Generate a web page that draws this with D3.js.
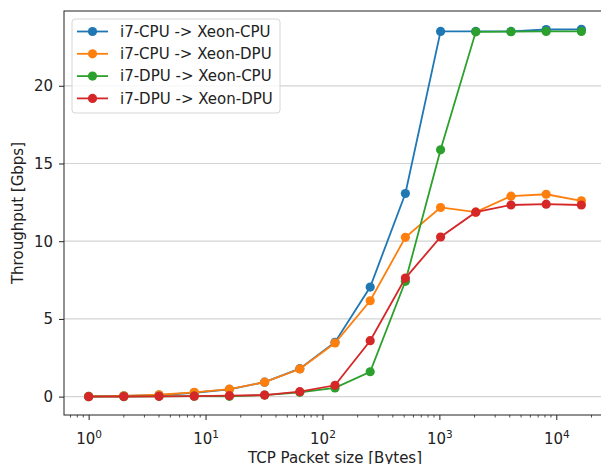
<!DOCTYPE html>
<html>
<head>
<meta charset="utf-8">
<script src="https://cdn.jsdelivr.net/npm/d3@7"></script>
<style>
  body { margin: 0; background: #fff; }
  svg { font-family: "DejaVu Sans", sans-serif; }
</style>
</head>
<body>
<div id="chart"></div>
<script>
// packet sizes in bytes
const sizes = [1, 2, 4, 8, 16, 32, 64, 128, 256, 512, 1024, 2048, 4096, 8192, 16384];

const seriesNames = [
  'i7-CPU -> Xeon-CPU',
  'i7-CPU -> Xeon-DPU',
  'i7-DPU -> Xeon-CPU',
  'i7-DPU -> Xeon-DPU'
];
const seriesColors = ['#1f77b4', '#ff7f0e', '#2ca02c', '#d62728'];

const cpuToCpu = [0.02, 0.05, 0.1, 0.25, 0.47, 0.93, 1.8, 3.5, 7.05, 13.07, 23.5, 23.5, 23.5, 23.62, 23.63];
const cpuToDpu = [0.02, 0.05, 0.12, 0.28, 0.48, 0.93, 1.78, 3.45, 6.17, 10.25, 12.17, 11.87, 12.9, 13.02, 12.6];
const dpuToCpu = [0.0, 0.0, 0.02, 0.03, 0.02, 0.1, 0.28, 0.56, 1.6, 7.42, 15.88, 23.47, 23.48, 23.5, 23.5];
const dpuToDpu = [0.0, 0.01, 0.02, 0.03, 0.06, 0.1, 0.32, 0.73, 3.6, 7.63, 10.27, 11.87, 12.33, 12.38, 12.33];

const seriesValues = [cpuToCpu, cpuToDpu, dpuToCpu, dpuToDpu];

const yTicks = [0, 5, 10, 15, 20];
const xTicks = [1, 10, 100, 1000, 10000];

document.addEventListener('DOMContentLoaded', function () {
  const width = 601, height = 464;
  const left = 64, top = 11, right = 606, bottom = 415;
  const fs = 15;

  const svg = d3.select('#chart')
    .append('svg')
    .attr('width', width)
    .attr('height', height);

  // x log scale with matplotlib-like 5% margins
  const lx0 = Math.log10(sizes[0]), lx1 = Math.log10(sizes[sizes.length - 1]);
  const mx = (lx1 - lx0) * 0.05;
  const x = d3.scaleLog()
    .domain([Math.pow(10, lx0 - mx), Math.pow(10, lx1 + mx)])
    .range([left, right]);

  const allVals = seriesValues.flat();
  const ymin = d3.min(allVals), ymax = d3.max(allVals);
  const my = (ymax - ymin) * 0.05;
  const y = d3.scaleLinear()
    .domain([ymin - my, ymax + my])
    .range([bottom, top]);

  // horizontal grid
  svg.append('g')
    .selectAll('line')
    .data(yTicks)
    .join('line')
    .attr('x1', left)
    .attr('x2', right)
    .attr('y1', d => y(d))
    .attr('y2', d => y(d))
    .attr('stroke', '#d3d3d3')
    .attr('stroke-width', 1.2);

  // y axis
  const yAxis = svg.append('g')
    .attr('transform', `translate(${left},0)`)
    .call(d3.axisLeft(y).tickValues(yTicks).tickSize(5).tickPadding(6).tickFormat(d3.format('d')));
  yAxis.select('.domain').remove();
  yAxis.selectAll('text').attr('font-size', fs).attr('fill', '#222').attr('font-family', 'DejaVu Sans');
  yAxis.selectAll('line').attr('stroke', '#222');

  // x axis: major ticks
  const xAxis = svg.append('g')
    .attr('transform', `translate(0,${bottom})`)
    .call(d3.axisBottom(x).tickValues(xTicks).tickSize(5).tickPadding(6).tickFormat(''));
  xAxis.select('.domain').remove();
  xAxis.selectAll('line').attr('stroke', '#222');
  xAxis.selectAll('.tick text')
    .attr('font-size', fs)
    .attr('fill', '#222')
    .attr('font-family', 'DejaVu Sans')
    .attr('dy', '1.2em')
    .each(function (d) {
      const t = d3.select(this);
      t.append('tspan').text('10');
      t.append('tspan').attr('font-size', 10.5).attr('dy', '-0.6em').text(Math.round(Math.log10(d)));
    });

  // minor ticks
  const minor = [];
  const [d0, d1] = x.domain();
  for (let e = Math.floor(Math.log10(d0)); e <= Math.ceil(Math.log10(d1)); e++) {
    for (let k = 2; k <= 9; k++) {
      const v = k * Math.pow(10, e);
      if (v >= d0 && v <= d1) minor.push(v);
    }
  }
  svg.append('g')
    .selectAll('line')
    .data(minor)
    .join('line')
    .attr('x1', d => x(d))
    .attr('x2', d => x(d))
    .attr('y1', bottom)
    .attr('y2', bottom + 2.5)
    .attr('stroke', '#222')
    .attr('stroke-width', 0.8);

  // frame
  svg.append('rect')
    .attr('x', left)
    .attr('y', top)
    .attr('width', right - left)
    .attr('height', bottom - top)
    .attr('fill', 'none')
    .attr('stroke', '#222')
    .attr('stroke-width', 1);

  // lines and markers
  const line = d3.line()
    .x((d, i) => x(sizes[i]))
    .y(d => y(d));

  seriesValues.forEach((vals, s) => {
    const g = svg.append('g');
    g.append('path')
      .datum(vals)
      .attr('fill', 'none')
      .attr('stroke', seriesColors[s])
      .attr('stroke-width', 1.8)
      .attr('d', line);
    g.selectAll('circle')
      .data(vals)
      .join('circle')
      .attr('cx', (d, i) => x(sizes[i]))
      .attr('cy', d => y(d))
      .attr('r', 4.6)
      .attr('fill', seriesColors[s]);
  });

  // legend
  const legend = svg.append('g').attr('transform', 'translate(72,19)');
  legend.append('rect')
    .attr('width', 208)
    .attr('height', 94)
    .attr('rx', 3)
    .attr('fill', 'rgba(255,255,255,0.8)')
    .attr('stroke', '#d6d6d6');
  const items = legend.selectAll('g.item')
    .data(seriesNames)
    .join('g')
    .attr('class', 'item')
    .attr('transform', (d, i) => `translate(0,${12.5 + i * 22.3})`);
  items.append('line')
    .attr('x1', 5).attr('x2', 36)
    .attr('stroke', (d, i) => seriesColors[i])
    .attr('stroke-width', 1.8);
  items.append('circle')
    .attr('cx', 20.5)
    .attr('r', 4.6)
    .attr('fill', (d, i) => seriesColors[i]);
  items.append('text')
    .attr('x', 48)
    .attr('dy', '0.35em')
    .attr('font-size', fs)
    .attr('fill', '#222')
    .text(d => d);

  // axis labels
  svg.append('text')
    .attr('x', (left + right) / 2)
    .attr('y', 463)
    .attr('text-anchor', 'middle')
    .attr('font-size', fs)
    .attr('fill', '#222')
    .text('TCP Packet size [Bytes]');

  svg.append('text')
    .attr('transform', `translate(23,${(top + bottom) / 2}) rotate(-90)`)
    .attr('text-anchor', 'middle')
    .attr('font-size', fs)
    .attr('fill', '#222')
    .text('Throughput [Gbps]');
});
</script>
</body>
</html>
